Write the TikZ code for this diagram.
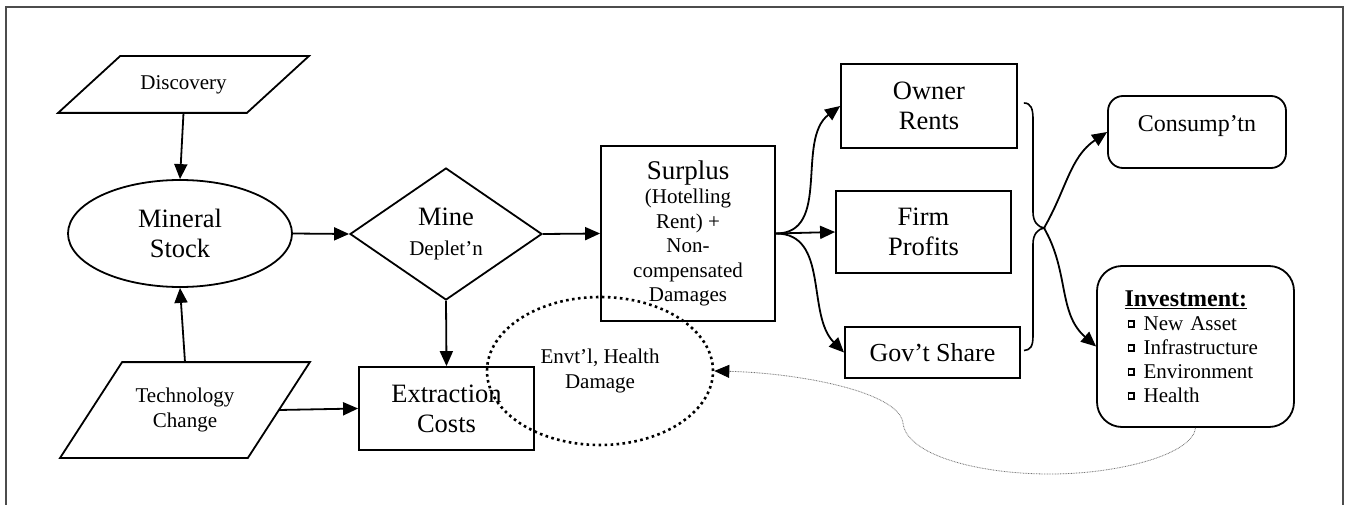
\documentclass[tikz,border=0pt]{standalone}
\usepackage{fontspec}
\setmainfont{Liberation Serif}
\usetikzlibrary{shapes.geometric,arrows.meta}

\newcommand{\sqbul}{{\fboxrule=1.3pt\fboxsep=0pt\raisebox{4pt}{\fbox{\rule{0pt}{4.5pt}\hspace{4.5pt}}}}}

\begin{document}
\begin{tikzpicture}[x=1pt, y=1pt, line width=1.8pt,
  bigtxt/.style={font=\fontsize{26.5}{30}\selectfont},
  smalltxt/.style={font=\fontsize{21}{24.5}\selectfont},
  blk/.style={draw, align=center, inner sep=0pt},
  arr/.style={-{Triangle[length=15pt,width=13pt]}, line width=1.8pt}]

\useasboundingbox (0,0) rectangle (1346,504);
% outer frame, its bottom edge is off the page
\draw[black!70, line width=1.5pt] (6,-20) -- (6,497) -- (1343,497) -- (1343,-20);

% inputs and the stock
\node[smalltxt, align=center, inner sep=0pt, minimum width=249pt, minimum height=55pt] (disc) at (183.5,419.5) {Discovery};
\node[smalltxt, align=center, inner sep=0pt, minimum width=248pt, minimum height=94pt] (tech) at (185,94) {Technology\\Change};
\foreach \p in {disc,tech}
  \draw ([xshift=62pt]\p.north west) -- (\p.north east) -- ([xshift=-62pt]\p.south east) -- (\p.south west) -- cycle;
\node[bigtxt, ellipse, draw, align=center, inner sep=0pt, minimum width=224pt, minimum height=107pt] (stock) at (180,270.5) {Mineral\\Stock};
\node[bigtxt, diamond, draw, aspect=1.45, inner sep=0pt, minimum width=192pt, minimum height=132pt, align=center] (mine) at (446,270) {Mine\\{\fontsize{21}{24}\selectfont Deplet'n}};
\node[blk, bigtxt, minimum width=175pt, minimum height=83pt] (ext) at (446.5,95.5) {Extraction\\Costs};

% surplus and its shares
\node[blk, smalltxt, minimum width=174pt, minimum height=175pt] (surplus) at (688,270.5) {{\fontsize{27}{30}\selectfont Surplus}\\(Hotelling\\Rent) +\\Non-\\compensated\\Damages};
\node[blk, bigtxt, minimum width=176pt, minimum height=84pt] (owner) at (929,398) {Owner\\Rents};
\node[blk, bigtxt, minimum width=175pt, minimum height=82pt] (firm) at (923.5,272) {Firm\\Profits};
\node[blk, font=\fontsize{26}{30}\selectfont, minimum width=175pt, minimum height=51pt, line width=2pt] (gov) at (932.5,151.5) {Gov't Share};

% uses
\node[blk, rounded corners=15pt, font=\fontsize{24}{28}\selectfont, minimum width=178pt, minimum height=72pt, text depth=16pt] (cons) at (1197,372) {Consump'tn};
\node[blk, rounded corners=25pt, minimum width=197pt, minimum height=161pt, text width=142pt, align=left, font=\fontsize{21}{24}\selectfont] (invest) at (1195.5,157.5) {{\fontsize{24}{24}\selectfont\bfseries\underline{Investment:}}\\
\hspace{3pt}\sqbul\hspace{9pt}New Asset\\
\hspace{3pt}\sqbul\hspace{9pt}Infrastructure\\
\hspace{3pt}\sqbul\hspace{9pt}Environment\\
\hspace{3pt}\sqbul\hspace{9pt}Health};

\node[ellipse, draw, line width=2.6pt, dash pattern=on 2.6pt off 3.4pt, smalltxt, align=center, inner sep=0pt, minimum width=226pt, minimum height=148pt] (dmg) at (600,133) {Envt'l, Health\\Damage};

% flows
\draw[arr] (disc.south) -- (stock.north);
\draw[arr] (tech.north) -- (stock.south);
\draw[arr] (stock.east) -- (mine.west);
\draw[arr] (mine.south) -- (ext.north);
\draw[arr] ([xshift=-31pt]tech.east) -- (ext.west);
\draw[arr] (mine.east) -- (surplus.west);
\draw[arr] (surplus.east) to[out=0, in=217] (owner.west);
\draw[arr] (surplus.east) -- (firm.west);
\draw[arr] (surplus.east) to[out=0, in=135] (gov.west);

% brace joining the shares
\coordinate (split) at (1044,276);
\draw[line width=1.6pt] ([shift={(6pt,3pt)}]owner.east) .. controls (1031,401) and (1033,395) .. (1033,385) -- (1033,292)
  .. controls (1033,282) and (1038,277) .. (split) .. controls (1038,275) and (1033,270) .. (1033,260) -- (1033,168)
  .. controls (1033,157) and (1030,154) .. ([shift={(3pt,2pt)}]gov.east);
\draw[arr] (split) to[out=60, in=214] (cons.west);
\draw[arr] (split) to[out=-60, in=139] (invest.west);

% feedback to damages
\draw[black!55, line width=0.8pt, dash pattern=on 0.8pt off 0.8pt, -{Triangle[length=15pt,width=13pt,color=black]}]
  (invest.south) .. controls (1193,50) and (1120,30) .. (1050,30) .. controls (975,30) and (906,50) .. (903,81)
  .. controls (899,112) and (800,131) .. (dmg.east);

\end{tikzpicture}
\end{document}
